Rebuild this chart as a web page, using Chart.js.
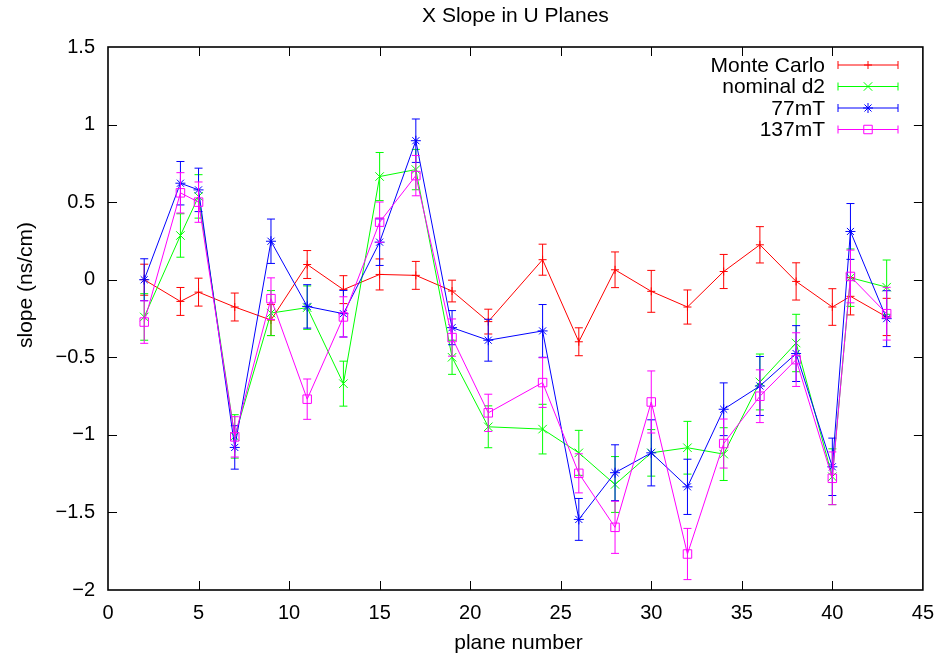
<!DOCTYPE html>
<html>
<head>
<meta charset="utf-8">
<title>X Slope in U Planes</title>
<script src="https://cdn.jsdelivr.net/npm/chart.js@4.4.1/dist/chart.umd.min.js"></script>
<style>
  html, body { margin: 0; padding: 0; background: #fff; }
  #wrap { width: 945px; height: 663px; }
</style>
</head>
<body>
<div id="wrap"><canvas id="chart" width="945" height="663"></canvas></div>
<script>
// plane numbers (x) shared by all series
const planes = [2, 4, 5, 7, 9, 11, 13, 15, 17, 19, 21, 24, 26, 28, 30, 32, 34, 36, 38, 40, 41, 43];

// slope values (ns/cm) and their errors
const monteCarlo    = [0.0, -0.14, -0.08, -0.176, -0.26, 0.098, -0.064, 0.034, 0.028, -0.073, -0.27, 0.129, -0.40, 0.064, -0.075, -0.176, 0.053, 0.225, -0.011, -0.176, -0.107, -0.24];
const monteCarloErr = [0.1, 0.09, 0.09, 0.09, 0.1, 0.09, 0.09, 0.1, 0.09, 0.07, 0.08, 0.1, 0.09, 0.115, 0.135, 0.11, 0.11, 0.117, 0.12, 0.118, 0.12, 0.12];

const nominalD2     = [-0.24, 0.285, 0.537, -1.01, -0.215, -0.18, -0.67, 0.665, 0.71, -0.50, -0.948, -0.963, -1.116, -1.32, -1.116, -1.083, -1.124, -0.659, -0.408, -1.27, 0.013, -0.048];
const nominalD2Err  = [0.15, 0.14, 0.14, 0.14, 0.145, 0.14, 0.145, 0.155, 0.13, 0.11, 0.135, 0.16, 0.145, 0.18, 0.15, 0.17, 0.17, 0.18, 0.185, 0.18, 0.185, 0.175];

const field77       = [0.0, 0.622, 0.579, -1.081, 0.248, -0.172, -0.219, 0.242, 0.896, -0.309, -0.39, -0.33, -1.545, -1.244, -1.116, -1.335, -0.835, -0.685, -0.476, -1.206, 0.311, -0.251];
const field77Err    = [0.135, 0.14, 0.14, 0.14, 0.143, 0.14, 0.15, 0.15, 0.14, 0.11, 0.135, 0.17, 0.135, 0.18, 0.213, 0.178, 0.17, 0.19, 0.18, 0.185, 0.18, 0.18];

const field137      = [-0.273, 0.56, 0.5, -1.013, -0.122, -0.77, -0.24, 0.371, 0.671, -0.373, -0.858, -0.663, -1.248, -1.596, -0.788, -1.768, -1.056, -0.751, -0.515, -1.28, 0.021, -0.219];
const field137Err   = [0.137, 0.13, 0.13, 0.13, 0.134, 0.13, 0.13, 0.13, 0.13, 0.12, 0.12, 0.16, 0.126, 0.168, 0.2, 0.165, 0.158, 0.17, 0.173, 0.17, 0.17, 0.17];

const seriesNames = ['Monte Carlo', 'nominal d2', '77mT', '137mT'];

const xTicks = { min: 0, max: 45, step: 5 };
const yTicks = { min: -2, max: 1.5, step: 0.5 };

const FONT = '"Liberation Sans", Arial, Helvetica, sans-serif';

function toPoints(values) {
    return planes.map((p, i) => ({ x: p, y: values[i] }));
}

function fmtMinus(v) {
    return String(v).replace('-', '\u2212');
}

/**
 * Vertical error bars with small caps, drawn under each dataset's line
 */
const errorBarPlugin = {
    id: 'errorBars',
    beforeDatasetDraw(chart, args) {
        const ds = chart.data.datasets[args.index];
        if (!ds.errors) return;
        const ctx = chart.ctx;
        const ys = chart.scales.y;
        const cap = 4;
        ctx.save();
        ctx.strokeStyle = ds.borderColor;
        ctx.lineWidth = 1;
        args.meta.data.forEach((pt, i) => {
            const v = ds.data[i].y;
            const e = ds.errors[i];
            const top = ys.getPixelForValue(v + e);
            const bot = ys.getPixelForValue(v - e);
            const x = pt.x;
            ctx.beginPath();
            ctx.moveTo(x, top);
            ctx.lineTo(x, bot);
            ctx.moveTo(x - cap, top);
            ctx.lineTo(x + cap, top);
            ctx.moveTo(x - cap, bot);
            ctx.lineTo(x + cap, bot);
            ctx.stroke();
        });
        ctx.restore();
    }
};

/**
 * gnuplot style frame with inward ticks on all four sides
 */
const framePlugin = {
    id: 'frame',
    beforeDatasetsDraw(chart) {
        const ctx = chart.ctx;
        const a = chart.chartArea;
        const xs = chart.scales.x;
        const ys = chart.scales.y;
        const tl = 9;
        ctx.save();
        ctx.strokeStyle = '#000';
        ctx.lineWidth = 1;
        ctx.beginPath();
        for (let v = xTicks.min + xTicks.step; v < xTicks.max; v += xTicks.step) {
            const x = Math.round(xs.getPixelForValue(v)) + 0.5;
            ctx.moveTo(x, a.bottom);
            ctx.lineTo(x, a.bottom - tl);
            ctx.moveTo(x, a.top);
            ctx.lineTo(x, a.top + tl);
        }
        for (let v = yTicks.min + yTicks.step; v < yTicks.max - 1e-9; v += yTicks.step) {
            const y = Math.round(ys.getPixelForValue(v)) + 0.5;
            ctx.moveTo(a.left, y);
            ctx.lineTo(a.left + tl, y);
            ctx.moveTo(a.right, y);
            ctx.lineTo(a.right - tl, y);
        }
        ctx.stroke();
        ctx.lineWidth = 1.6;
        ctx.strokeRect(a.left, a.top, a.right - a.left, a.bottom - a.top);
        ctx.restore();
    }
};

/**
 * Title, axis titles and the key in the top right corner
 */
const textPlugin = {
    id: 'texts',
    afterDraw(chart) {
        const ctx = chart.ctx;
        const a = chart.chartArea;
        ctx.save();
        ctx.fillStyle = '#000';
        ctx.font = '21px ' + FONT;
        ctx.textAlign = 'center';
        ctx.textBaseline = 'alphabetic';
        ctx.fillText('X Slope in U Planes', (a.left + a.right) / 2, 22);
        ctx.fillText('plane number', (a.left + a.right) / 2 + 3, 649);

        ctx.save();
        ctx.translate(32, 285);
        ctx.rotate(-Math.PI / 2);
        ctx.fillText('slope (ns/cm)', 0, 0);
        ctx.restore();

        // key
        const textRight = 825;
        const x0 = 838, x1 = 898, xm = 868;
        chart.data.datasets.forEach((ds, i) => {
            const y = 65 + i * 21.5;
            ctx.fillStyle = '#000';
            ctx.textAlign = 'right';
            ctx.textBaseline = 'middle';
            ctx.fillText(seriesNames[i], textRight, y + 1);
            ctx.strokeStyle = ds.borderColor;
            ctx.lineWidth = 1;
            ctx.beginPath();
            ctx.moveTo(x0, y);
            ctx.lineTo(x1, y);
            ctx.moveTo(x0, y - 4);
            ctx.lineTo(x0, y + 4);
            ctx.moveTo(x1, y - 4);
            ctx.lineTo(x1, y + 4);
            ctx.stroke();
            ctx.fillStyle = 'rgba(0,0,0,0)';
            Chart.helpers.drawPoint(ctx, {
                pointStyle: ds.pointStyle,
                radius: ds.pointRadius,
                rotation: 0,
                borderWidth: 1
            }, xm, y);
        });
        ctx.restore();
    }
};

function makeSeries(label, values, errors, color, style, radius, order) {
    return {
        label: label,
        data: toPoints(values),
        errors: errors,
        borderColor: color,
        backgroundColor: 'rgba(0,0,0,0)',
        borderWidth: 1,
        pointStyle: style,
        pointRadius: radius,
        pointBorderColor: color,
        pointBackgroundColor: 'rgba(0,0,0,0)',
        pointBorderWidth: 1,
        tension: 0,
        fill: false,
        order: order,
        clip: false
    };
}

const ctx = document.getElementById('chart').getContext('2d');

new Chart(ctx, {
    type: 'line',
    data: {
        datasets: [
            makeSeries(seriesNames[0], monteCarlo, monteCarloErr, '#ff0000', 'cross', 4, 4),
            makeSeries(seriesNames[1], nominalD2, nominalD2Err, '#00ff00', 'crossRot', 6, 3),
            makeSeries(seriesNames[2], field77, field77Err, '#0000ff', 'star', 5, 2),
            makeSeries(seriesNames[3], field137, field137Err, '#ff00ff', 'rect', 6, 1)
        ]
    },
    options: {
        responsive: false,
        animation: false,
        events: [],
        layout: {
            padding: { left: 0, right: 22, top: 47, bottom: 0 }
        },
        scales: {
            x: {
                type: 'linear',
                min: xTicks.min,
                max: xTicks.max,
                grid: { display: false, drawTicks: false },
                border: { display: false },
                ticks: {
                    stepSize: xTicks.step,
                    padding: 11,
                    color: '#000',
                    font: { family: FONT, size: 20 },
                    callback: v => fmtMinus(v)
                },
                afterFit: scale => { scale.height = 73; }
            },
            y: {
                type: 'linear',
                min: yTicks.min,
                max: yTicks.max,
                grid: { display: false, drawTicks: false },
                border: { display: false },
                ticks: {
                    stepSize: yTicks.step,
                    padding: 13,
                    color: '#000',
                    font: { family: FONT, size: 20 },
                    callback: v => fmtMinus(v)
                },
                afterFit: scale => { scale.width = 108; }
            }
        },
        plugins: {
            legend: { display: false },
            title: { display: false },
            tooltip: { enabled: false }
        }
    },
    plugins: [errorBarPlugin, framePlugin, textPlugin]
});
</script>
</body>
</html>
